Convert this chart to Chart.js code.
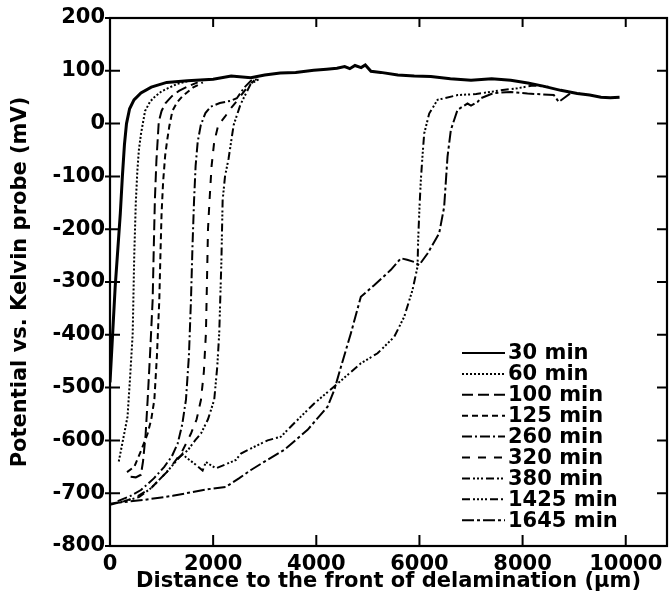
<!DOCTYPE html>
<html><head><meta charset="utf-8">
<script src="https://cdn.jsdelivr.net/npm/chart.js@4.4.1/dist/chart.umd.min.js"></script>
<style>html,body{margin:0;padding:0;background:#fff}</style>
</head><body>
<canvas id="c" width="672" height="612" style="width:672px;height:612px;display:block"></canvas>
<script>
// ---- tick values ----
const xTickValues = [0, 2000, 4000, 6000, 8000, 10000];
const yTickValues = [200, 100, 0, -100, -200, -300, -400, -500, -600, -700, -800];

// ---- series labels ----
const seriesLabels = ['30 min','60 min','100 min','125 min','260 min','320 min','380 min','1425 min','1645 min'];

// ---- series values (distance in µm, potential in mV) ----
const x30 = [0,50,100,150,200,240,280,320,380,465,600,800,1100,1500,2000,2350,2730,3000,3300,3600,3950,4200,4400,4550,4650,4750,4870,4950,5060,5250,5580,5900,6220,6600,7000,7400,7770,8100,8400,8740,9060,9300,9520,9700,9880];
const y30 = [-490,-400,-310,-240,-170,-100,-40,0,28,45,58,69,78,81,84,90,87,92,96,97,101,103,105,108,104,110,106,111,99,97,92,90,89,85,82,85,82,77,71,63,57,54,50,49,50];

const x60 = [170,230,290,340,390,440,470,500,530,560,600,680,780,880,1000,1143,1300,1500];
const y60 = [-640,-610,-580,-555,-480,-398,-250,-150,-90,-50,-20,24,42,52,61,68,75,80];

const x100 = [400,500,600,640,690,730,780,827,850,870,900,946,1000,1078,1200,1337,1500,1700];
const y100 = [-669,-670,-665,-640,-590,-523,-430,-334,-230,-145,-70,4,24,39,52,62,70,78];

const x125 = [330,471,600,730,800,860,910,956,980,1000,1030,1070,1111,1150,1210,1300,1407,1605,1800];
const y125 = [-660,-650,-620,-587,-560,-523,-440,-334,-240,-170,-110,-60,-30,-5,24,40,52,68,78];

const x260 = [150,400,600,850,1052,1200,1312,1400,1473,1530,1570,1600,1630,1660,1700,1760,1850,1950,2130,2330,2460,2600,2730,2900];
const y260 = [-715,-705,-694,-672,-650,-630,-606,-570,-523,-440,-334,-230,-145,-80,-35,-3,20,32,39,43,48,68,81,85];

const x320 = [250,500,800,1100,1376,1480,1570,1680,1764,1820,1860,1880,1900,1930,1970,2020,2099,2229,2350,2461,2655,2800];
const y320 = [-716,-708,-690,-660,-625,-605,-587,-560,-523,-470,-397,-300,-200,-145,-80,-35,-3,13,30,43,68,82];

const x380 = [1300,1506,1650,1764,1900,2021,2080,2118,2160,2184,2230,2298,2397,2529,2727,2900];
const y380 = [-635,-619,-600,-587,-560,-523,-460,-397,-260,-145,-100,-67,-3,36,75,85];

const x1425 = [0,200,400,568,800,1100,1409,1473,1650,1796,1860,2054,2250,2442,2539,2800,3056,3314,3444,3700,3959,4347,4864,5188,5510,5704,5866,5963,5975,6000,6027,6060,6092,6189,6351,6738,7100,7578,7901,8200,8500];
const y1425 = [-720,-717,-712,-707,-690,-660,-625,-632,-645,-657,-641,-653,-645,-637,-625,-612,-600,-593,-580,-555,-530,-498,-454,-435,-404,-366,-315,-271,-221,-160,-107,-60,-19,19,45,54,56,63,67,72,70];

const x1645 = [0,150,633,1215,1860,2248,2500,2733,3050,3378,3831,4219,4347,4477,4671,4864,5122,5446,5640,5760,5897,5994,6157,6382,6479,6544,6609,6738,6932,7000,7126,7190,7442,7771,8095,8605,8702,8798,8934,9100];
const y1645 = [-722,-718,-713,-705,-693,-688,-672,-656,-637,-618,-580,-536,-505,-461,-397,-328,-306,-277,-255,-258,-262,-268,-246,-208,-158,-63,-12,26,38,34,41,48,58,60,57,54,41,48,58,58];

const seriesX = [x30,x60,x100,x125,x260,x320,x380,x1425,x1645];
const seriesY = [y30,y60,y100,y125,y260,y320,y380,y1425,y1645];

// ---- line styles ----
const dashStyles = [[], [2,2], [11,5], [6,4], [10,3,2,3], [8,8], [8,3,2,2,2,2,2,3], [8,3,2,2,2,2,2,2,2,3], [12,3,3,3]];
const lineWidths = [3,2,2,2,2,2,2,2,2];

const FONT = 'DejaVu Sans';

const datasets = seriesLabels.map((lab, i) => ({
  label: lab,
  data: seriesX[i].map((x, j) => ({x: x, y: seriesY[i][j]})),
  borderColor: '#000',
  backgroundColor: '#000',
  borderWidth: lineWidths[i],
  borderDash: dashStyles[i],
  pointRadius: 0,
  tension: 0,
  fill: false
}));

const frameTicks = {
  id: 'frameTicks',
  afterDatasetsDraw(chart) {
    const ctx = chart.ctx, a = chart.chartArea;
    const xs = chart.scales.x, ys = chart.scales.y;
    ctx.save();
    ctx.strokeStyle = '#000';
    ctx.lineWidth = 2.2;
    ctx.strokeRect(a.left, a.top, a.right - a.left, a.bottom - a.top);
    ctx.lineWidth = 2;
    ctx.beginPath();
    xTickValues.forEach(v => {
      const px = xs.getPixelForValue(v);
      ctx.moveTo(px, a.bottom); ctx.lineTo(px, a.bottom - 11);
      ctx.moveTo(px, a.top); ctx.lineTo(px, a.top + 9);
    });
    yTickValues.forEach(v => {
      const py = ys.getPixelForValue(v);
      ctx.moveTo(a.left - 5, py); ctx.lineTo(a.left + 10, py);
      ctx.moveTo(a.right, py); ctx.lineTo(a.right - 10, py);
    });
    ctx.stroke();
    ctx.restore();
  }
};

const insideLegend = {
  id: 'insideLegend',
  afterDraw(chart) {
    const ctx = chart.ctx;
    const x0 = 462, x1 = 505, tx = 508, top = 353, step = 20.9;
    ctx.save();
    ctx.font = 'bold 21px "' + FONT + '"';
    ctx.textBaseline = 'middle';
    ctx.fillStyle = '#000';
    chart.data.datasets.forEach((ds, i) => {
      const y = top + i * step;
      ctx.strokeStyle = '#000';
      ctx.lineWidth = 2;
      ctx.setLineDash(ds.borderDash);
      ctx.beginPath(); ctx.moveTo(x0, y); ctx.lineTo(x1, y); ctx.stroke();
      ctx.setLineDash([]);
      ctx.fillText(ds.label, tx, y + 1);
    });
    ctx.restore();
  }
};

new Chart(document.getElementById('c'), {
  type: 'line',
  data: { datasets: datasets },
  options: {
    responsive: false,
    animation: false,
    devicePixelRatio: 1,
    layout: { padding: { top: 18, right: 5, left: 0, bottom: 0 } },
    plugins: { legend: { display: false }, tooltip: { enabled: false } },
    scales: {
      x: {
        type: 'linear', min: 0, max: 10800,
        grid: { display: false, drawTicks: false },
        border: { display: false },
        afterBuildTicks: s => { s.ticks = xTickValues.map(v => ({ value: v })); },
        ticks: {
          autoSkip: false, maxRotation: 0, minRotation: 0,
          padding: 6, color: '#000',
          font: { family: FONT, weight: 'bold', size: 21 },
          callback: v => String(v)
        },
        title: {
          display: true, text: 'Distance to the front of delamination (\u00b5m)', color: '#000',
          font: { family: FONT, weight: 'bold', size: 21 }, padding: { top: 0, bottom: 18 }
        },
        afterFit: s => { s.height = 66; s.paddingRight = 0; s.paddingLeft = 0; }
      },
      y: {
        type: 'linear', min: -800, max: 200,
        grid: { display: false, drawTicks: false },
        border: { display: false },
        afterBuildTicks: s => { s.ticks = yTickValues.slice().reverse().map(v => ({ value: v })); },
        ticks: {
          autoSkip: false, padding: 5, color: '#000',
          font: { family: FONT, weight: 'bold', size: 21 },
          callback: v => String(v)
        },
        title: {
          display: true, text: 'Potential vs. Kelvin probe (mV)', color: '#000',
          font: { family: FONT, weight: 'bold', size: 21 }, padding: { top: 8, bottom: 0 }
        },
        afterFit: s => { s.width = 110; s.paddingTop = 0; s.paddingBottom = 0; }
      }
    }
  },
  plugins: [frameTicks, insideLegend]
});
</script>
</body></html>
